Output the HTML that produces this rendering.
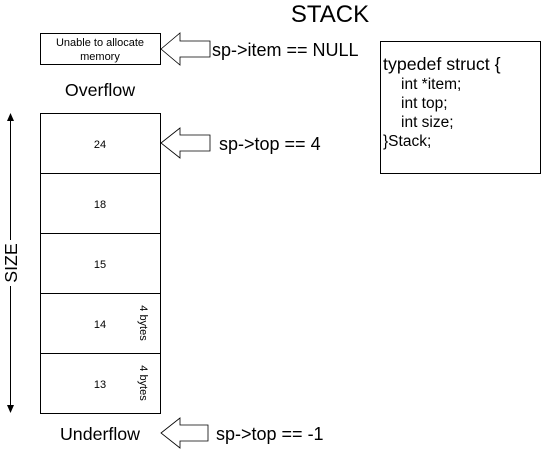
<!DOCTYPE html>
<html><head><style>body{margin:0;background:#fff}</style></head><body>
<svg width="541" height="449" xmlns="http://www.w3.org/2000/svg" font-family="Liberation Sans, sans-serif">
<rect width="541" height="449" fill="#fff"/>
<text x="330" y="22" font-size="24" text-anchor="middle">STACK</text>
<rect x="40.5" y="33.5" width="120" height="31" fill="#fff" stroke="#000"/>
<text x="100" y="46" font-size="11" text-anchor="middle">Unable to allocate</text>
<text x="100" y="60" font-size="11" text-anchor="middle">memory</text>
<polygon points="161,49 180,33 180,41 210,41 210,57 180,57 180,65" fill="#fff" stroke="#000" stroke-width="0.8"/>
<text x="212" y="56" font-size="18">sp-&gt;item == NULL</text>
<text x="100" y="96" font-size="17.8" text-anchor="middle">Overflow</text>
<g fill="#fff" stroke="#000">
<rect x="40.5" y="113.5" width="120" height="60"/>
<rect x="40.5" y="173.5" width="120" height="60"/>
<rect x="40.5" y="233.5" width="120" height="60"/>
<rect x="40.5" y="293.5" width="120" height="60"/>
<rect x="40.5" y="353.5" width="120" height="60"/>
</g>
<g font-size="11" text-anchor="middle">
<text x="100" y="148">24</text>
<text x="100" y="208">18</text>
<text x="100" y="268">15</text>
<text x="100" y="328">14</text>
<text x="100" y="388">13</text>
<text transform="translate(140,323) rotate(90)" >4 bytes</text>
<text transform="translate(140,383) rotate(90)">4 bytes</text>
</g>
<polygon points="161,143 180,128 180,135 210,135 210,151 180,151 180,158" fill="#fff" stroke="#000" stroke-width="0.8"/>
<text x="219" y="150" font-size="18">sp-&gt;top == 4</text>
<line x1="10.5" y1="120" x2="10.5" y2="406" stroke="#000"/>
<polygon points="10.5,113 7,121 14,121" fill="#000"/>
<polygon points="10.5,413 7,405 14,405" fill="#000"/>
<rect x="3" y="240" width="16" height="46" fill="#fff"/>
<text transform="translate(17,263) rotate(-90)" font-size="17.8" text-anchor="middle">SIZE</text>
<text x="100" y="440" font-size="17.8" text-anchor="middle">Underflow</text>
<polygon points="161,433 180,418 180,425 208,425 208,441 180,441 180,448" fill="#fff" stroke="#000" stroke-width="0.8"/>
<text x="216" y="440" font-size="18">sp-&gt;top == -1</text>
<rect x="380.5" y="41.5" width="160" height="132" fill="#fff" stroke="#000"/>
<g font-size="15.5">
<text x="383" y="70" font-size="17.8">typedef struct {</text>
<text x="401" y="89">int *item;</text>
<text x="401" y="108">int top;</text>
<text x="401" y="127">int size;</text>
<text x="383" y="146">}Stack;</text>
</g>
</svg>
</body></html>
